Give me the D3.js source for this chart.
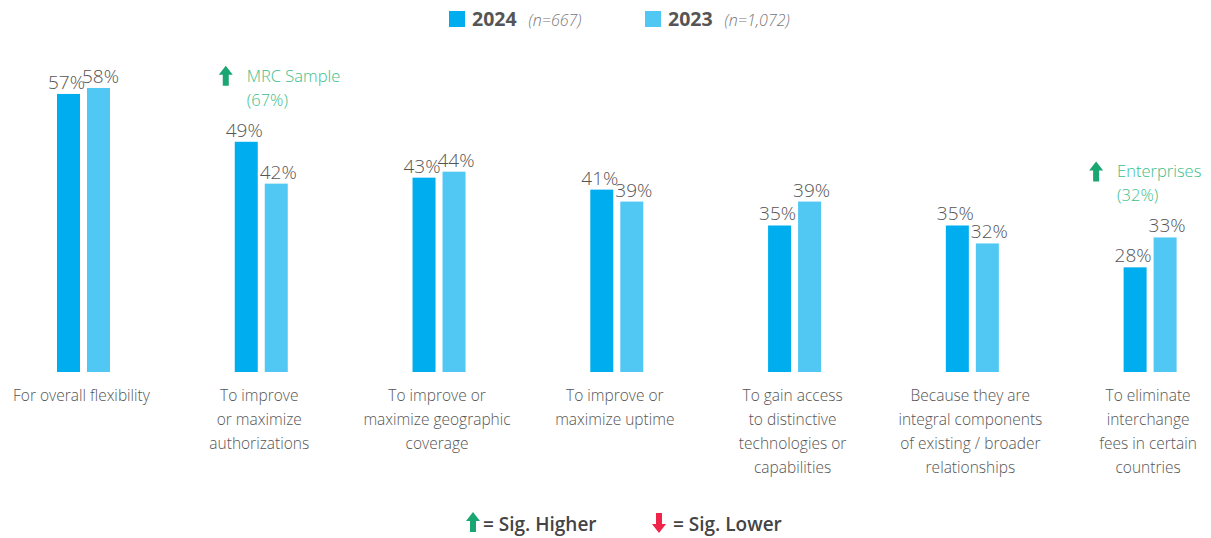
<!DOCTYPE html>
<html>
<head>
<meta charset="utf-8">
<script src="https://cdn.jsdelivr.net/npm/d3@7"></script>
<style>
  body { margin: 0; background: #fff; }
  svg { display: block; font-family: "Open Sans", "Noto Sans", sans-serif; }
</style>
</head>
<body>
<svg width="1211" height="538"></svg>
<script>
const width = 1211;
const height = 538;

const categories = [
    ["For overall flexibility"],
    ["To improve", "or maximize", "authorizations"],
    ["To improve or", "maximize geographic", "coverage"],
    ["To improve or", "maximize uptime"],
    ["To gain access", "to distinctive", "technologies or", "capabilities"],
    ["Because they are", "integral components", "of existing / broader", "relationships"],
    ["To eliminate", "interchange", "fees in certain", "countries"],
];
const years = ["2024", "2023"];
const sampleSizes = ["(n=667)", "(n=1,072)"];
const values2024 = [57, 49, 43, 41, 35, 35, 28];
const values2023 = [58, 42, 44, 39, 39, 32, 33];
const notes = [
    { group: 1, lines: ["MRC Sample", "(67%)"] },
    { group: 6, lines: ["Enterprises", "(32%)"] },
];

const colors = { "2024": "#00aeef", "2023": "#50c8f3" };
const textColor = "#555";
const noteColor = "#3dbe8b";
const arrowGreen = "#1aa672";
const arrowRed = "#ee2449";
const baseline = 372;

const svg = d3.select("svg");

const x = d3.scaleBand()
    .domain(d3.range(categories.length))
    .range([-5.4, 1239]);

const xYear = d3.scaleBand()
    .domain(years)
    .range([-26.5, 26.5])
    .paddingInner(7 / 30);

const y = d3.scaleLinear()
    .domain([10.5, 60])
    .range([baseline, 76]);

const rows = categories.map((c, i) => ({
    i,
    lines: c,
    vals: [{ year: "2024", v: values2024[i] }, { year: "2023", v: values2023[i] }],
}));

const groups = svg.selectAll("g.group")
    .data(rows)
    .enter()
    .append("g")
    .attr("class", "group")
    .attr("transform", d => `translate(${x(d.i) + x.bandwidth() / 2},0)`);

groups.selectAll("rect")
    .data(d => d.vals)
    .enter()
    .append("rect")
    .attr("x", d => xYear(d.year))
    .attr("width", xYear.bandwidth())
    .attr("y", d => y(d.v))
    .attr("height", d => baseline - y(d.v))
    .attr("fill", d => colors[d.year]);

groups.selectAll("text.val")
    .data(d => d.vals)
    .enter()
    .append("text")
    .attr("class", "val")
    .attr("x", d => xYear(d.year) + xYear.bandwidth() / 2 + (d.year === "2024" ? -2 : 2))
    .attr("y", d => y(d.v) - 5)
    .attr("text-anchor", "middle")
    .attr("font-size", 19)
    .attr("font-weight", 300)
    .attr("fill", textColor)
    .text(d => d.v + "%");

groups.append("text")
    .attr("class", "cat")
    .attr("text-anchor", "middle")
    .attr("font-size", 15.5)
    .attr("font-weight", 300)
    .attr("fill", textColor)
    .selectAll("tspan")
    .data(d => d.lines)
    .enter()
    .append("tspan")
    .attr("x", -2)
    .attr("y", (d, i) => 401 + i * 24)
    .text(d => d);

function upArrow(g, cx, top, color) {
    g.append("path")
        .attr("d", `M${cx},${top} L${cx + 7},${top + 9} L${cx + 3},${top + 9} L${cx + 3},${top + 20} L${cx - 3},${top + 20} L${cx - 3},${top + 9} L${cx - 7},${top + 9} Z`)
        .attr("fill", color);
}

function downArrow(g, cx, top, color) {
    g.append("path")
        .attr("d", `M${cx - 3},${top} L${cx + 3},${top} L${cx + 3},${top + 11} L${cx + 7},${top + 11} L${cx},${top + 20} L${cx - 7},${top + 11} L${cx - 3},${top + 11} Z`)
        .attr("fill", color);
}

// significance notes above groups; the last one is pulled left to stay in view
notes.forEach(n => {
    const cx = x(n.group) + x.bandwidth() / 2;
    const last = n.group === categories.length - 1;
    const textX = cx + (last ? -33 : -14.5);
    const top = y(Math.max(values2024[n.group], values2023[n.group])) - 76;
    const g = svg.append("g");
    upArrow(g, textX - 21, top, arrowGreen);
    g.append("text")
        .attr("font-size", 16.5)
        .attr("font-weight", 300)
        .attr("fill", noteColor)
        .selectAll("tspan")
        .data(n.lines)
        .enter()
        .append("tspan")
        .attr("x", textX)
        .attr("y", (d, i) => top + 16 + i * 24)
        .text(d => d);
});

// top legend
const legend = svg.append("g");
const legendX = [449, 645];
years.forEach((yr, i) => {
    const lg = legend.append("g").attr("transform", `translate(${legendX[i]},0)`);
    lg.append("rect")
        .attr("y", 11)
        .attr("width", 16)
        .attr("height", 16)
        .attr("fill", colors[yr]);
    const t = lg.append("text")
        .attr("x", 23)
        .attr("y", 26)
        .attr("fill", textColor);
    t.append("tspan")
        .attr("font-size", 19.5)
        .attr("font-weight", 700)
        .text(yr);
    t.append("tspan")
        .attr("dx", 12)
        .attr("font-size", 16)
        .attr("font-style", "italic")
        .attr("font-weight", 300)
        .attr("fill", "#777")
        .text(sampleSizes[i]);
});

// bottom legend
const bottom = svg.append("g");
upArrow(bottom, 473, 512, arrowGreen);
bottom.append("text")
    .attr("x", 483)
    .attr("y", 531)
    .attr("font-size", 19)
    .attr("font-weight", 600)
    .attr("fill", "#444")
    .text("= Sig. Higher");
downArrow(bottom, 659, 513, arrowRed);
bottom.append("text")
    .attr("x", 673)
    .attr("y", 531)
    .attr("font-size", 19)
    .attr("font-weight", 600)
    .attr("fill", "#444")
    .text("= Sig. Lower");
</script>
</body>
</html>
